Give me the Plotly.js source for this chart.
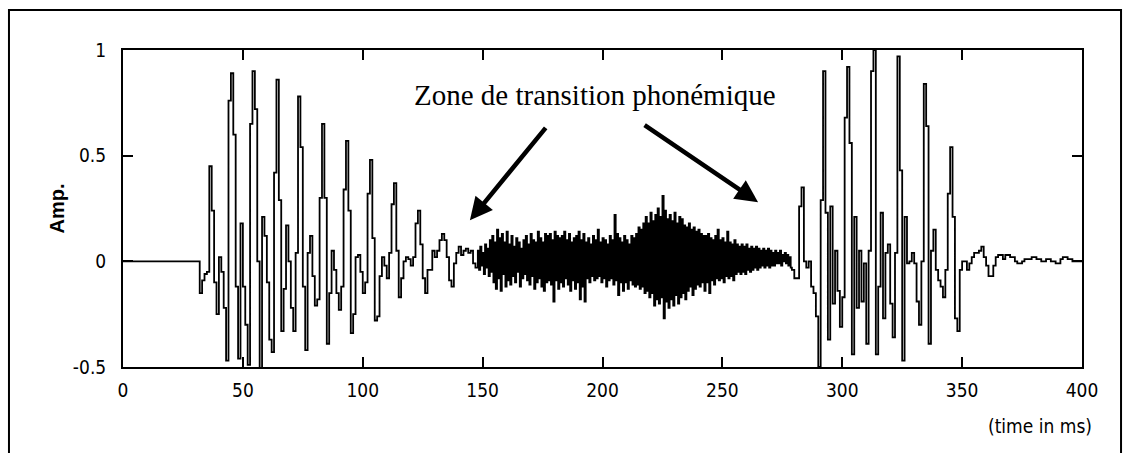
<!DOCTYPE html>
<html>
<head>
<meta charset="utf-8">
<script src="https://cdn.plot.ly/plotly-3.0.1.min.js"></script>
<style>
  html, body { margin: 0; padding: 0; background: #ffffff; }
  #chart { width: 1125px; height: 453px; }
</style>
</head>
<body>
<div id="chart"></div>
<script>
// ---- data (amplitude) ----
// silence before the first voiced segment: samples at t = 0 and t = 31 ms
const leadIn = [0, 0];
const leadInStart = 0, leadInStep = 31;

// first voiced segment, one sample per ms from t = 32 ms
const voiced1Start = 32, voiced1Step = 1;
const voiced1 = [
  -0.15,-0.09,-0.06,-0.05,0.45,0.24,-0.10,-0.25,0.02,-0.05,
  -0.22,-0.47,0.76,0.89,0.60,-0.12,-0.46,0.18,-0.12,-0.30,
  -0.49,0.65,0.90,0.72,0.00,-0.52,0.21,0.12,-0.10,-0.37,
  -0.43,0.42,0.86,0.29,-0.33,-0.13,0.17,0.00,-0.22,-0.33,
  0.04,0.78,0.54,-0.12,-0.42,0.04,0.12,-0.07,-0.21,-0.18,
  0.30,0.65,0.30,-0.39,-0.15,0.05,-0.04,-0.15,-0.23,-0.12,
  0.34,0.57,0.24,-0.34,-0.25,0.02,0.03,-0.05,-0.15,-0.10,
  0.32,0.48,0.11,-0.28,-0.26,-0.07,0.02,-0.02,-0.08,0.04,
  0.27,0.37,0.05,-0.17,-0.08,0.00,0.02,0.01,-0.02,0.02,
  0.18,0.24,0.08,-0.08,-0.15,-0.04,-0.04,0.05,0.02,0.05,
  0.10,0.13,0.10,0.02,-0.09,-0.12,-0.01,0.04,0.07,0.03,
  0.05,0.06,0.04,0.05,-0.01,-0.03
];

// transition zone (noise), one sample per 0.5 ms from t = 148 ms
const transitionStart = 148, transitionStep = 0.5;
const transition = [
  0.05,-0.04,0.07,-0.02,0.04,-0.06,0.08,-0.03,0.06,-0.07,
  0.10,-0.05,0.12,-0.10,0.09,-0.13,0.15,-0.08,0.11,-0.14,
  0.13,-0.06,0.09,-0.12,0.14,-0.09,0.08,-0.11,0.12,-0.07,
  0.07,-0.10,0.11,-0.05,0.09,-0.12,0.06,-0.08,0.10,-0.06,
  0.12,-0.09,0.08,-0.11,0.13,-0.07,0.10,-0.13,0.09,-0.10,
  0.14,-0.08,0.11,-0.12,0.09,-0.14,0.13,-0.10,0.12,-0.09,
  0.13,-0.11,0.10,-0.19,0.14,-0.09,0.12,-0.13,0.11,-0.10,
  0.12,-0.12,0.14,-0.08,0.10,-0.11,0.13,-0.14,0.09,-0.09,
  0.11,-0.13,0.12,-0.10,0.14,-0.18,0.10,-0.12,0.13,-0.19,
  0.09,-0.08,0.11,-0.10,0.08,-0.07,0.12,-0.09,0.10,-0.08,
  0.15,-0.07,0.09,-0.10,0.11,-0.08,0.10,-0.12,0.08,-0.09,
  0.12,-0.08,0.10,-0.11,0.22,-0.09,0.13,-0.16,0.11,-0.10,
  0.09,-0.14,0.12,-0.10,0.10,-0.13,0.08,-0.09,0.12,-0.11,
  0.11,-0.12,0.13,-0.11,0.16,-0.13,0.15,-0.12,0.18,-0.15,
  0.21,-0.14,0.18,-0.17,0.23,-0.15,0.19,-0.21,0.22,-0.18,
  0.25,-0.20,0.21,-0.17,0.31,-0.27,0.24,-0.19,0.20,-0.22,
  0.22,-0.18,0.19,-0.21,0.23,-0.16,0.18,-0.20,0.21,-0.17,
  0.20,-0.15,0.17,-0.18,0.16,-0.14,0.18,-0.12,0.15,-0.16,
  0.16,-0.13,0.14,-0.11,0.15,-0.12,0.13,-0.10,0.12,-0.14,
  0.12,-0.10,0.13,-0.15,0.11,-0.09,0.10,-0.11,0.12,-0.08,
  0.15,-0.09,0.10,-0.08,0.11,-0.10,0.09,-0.07,0.14,-0.08,
  0.09,-0.07,0.08,-0.09,0.10,-0.06,0.08,-0.05,0.07,-0.06,
  0.08,-0.05,0.07,-0.06,0.08,-0.04,0.06,-0.05,0.07,-0.04,
  0.06,-0.03,0.07,-0.04,0.06,-0.03,0.05,-0.02,0.06,-0.03,
  0.05,-0.02,0.06,-0.03,0.05,-0.02,0.04,-0.02,0.05,-0.01,
  0.04,-0.01,0.05,-0.02,0.03,0.00,0.04,-0.01,0.03,-0.02,
  0.02,-0.03
];

// second voiced segment and decay, one sample per ms from t = 279 ms
const voiced2Start = 279, voiced2Step = 1;
const voiced2 = [
  -0.04,-0.08,-0.08,0.26,0.35,0.00,-0.03,0.00,-0.12,-0.15,
  -0.26,-0.50,0.29,0.90,0.23,-0.37,0.26,-0.20,0.05,-0.14,
  -0.31,-0.17,0.68,0.92,0.56,-0.44,0.21,-0.22,0.05,-0.19,
  -0.01,-0.39,0.05,0.90,1.00,-0.44,-0.12,0.23,-0.27,0.04,
  0.08,-0.20,-0.36,0.04,0.97,0.43,-0.47,0.21,-0.01,0.00,
  0.04,-0.01,-0.19,-0.30,0.00,0.84,0.64,-0.39,0.05,0.15,
  -0.04,-0.09,-0.12,-0.17,-0.04,0.32,0.54,0.21,-0.27,-0.33,
  -0.04,0.00,0.00,-0.04,-0.01,0.02,0.04,0.04,0.05,0.07,
  0.02,-0.02,-0.07,-0.07,-0.02,0.02,0.03,0.03,0.01,0.03,
  0.03,0.02,0.02,0.00,-0.01,-0.01,0.00,0.01,0.01,0.01,
  0.02,0.02,0.01,0.01,0.00,0.00,0.01,0.01,0.00,0.00,
  -0.01,-0.01,0.01,0.02,0.02,0.01,0.01,0.00,0.00,0.00,
  0.00,0.00
];

const xTickVals = [0, 50, 100, 150, 200, 250, 300, 350, 400];
const xTickText = ['0', '50', '100', '150', '200', '250', '300', '350', '400'];
const yTickVals = [-0.5, 0, 0.5, 1];
const yTickText = ['-0.5', '0', '0.5', '1'];

const yTitle = 'Amp.';
const xUnitLabel = '(time in ms)';
const noteText = 'Zone de transition phonémique';
// arrow tips (ms, amplitude)
const arrowTipLeft = [144.7, 0.194];
const arrowTipRight = [264.9, 0.28];
const noteAnchor = [196.9, 0.787];

// ---- build the sampled signal ----
const segments = [
  { start: leadInStart, step: leadInStep, values: leadIn },
  { start: voiced1Start, step: voiced1Step, values: voiced1 },
  { start: transitionStart, step: transitionStep, values: transition },
  { start: voiced2Start, step: voiced2Step, values: voiced2 }
];
const t = [], amp = [];
segments.forEach(s => s.values.forEach((v, i) => { t.push(s.start + i * s.step); amp.push(v); }));

const tickFamily = '"DejaVu Sans Condensed", "Liberation Sans Narrow", "Arial Narrow", sans-serif';
const tickFont = { family: tickFamily, size: 19, color: '#000' };

const trace = {
  type: 'scatter', mode: 'lines', x: t, y: amp,
  line: { color: '#000', width: 1.8, shape: 'hv' },
  hoverinfo: 'skip'
};

const axisCommon = {
  showgrid: false, zeroline: false,
  showline: true, linecolor: '#000', linewidth: 2, mirror: 'ticks',
  ticks: 'inside', ticklen: 10, tickwidth: 2, tickcolor: '#000',
  tickfont: tickFont, fixedrange: true
};

const layout = {
  width: 1125, height: 453,
  margin: { l: 123, r: 43, t: 50, b: 86, pad: 0 },
  paper_bgcolor: '#fff', plot_bgcolor: '#fff',
  showlegend: false,
  xaxis: Object.assign({}, axisCommon, {
    range: [0, 400], tickmode: 'array', tickvals: xTickVals, ticktext: xTickText,
    ticklabelstandoff: 5
  }),
  yaxis: Object.assign({}, axisCommon, {
    range: [-0.5, 1], tickmode: 'array', tickvals: yTickVals, ticktext: yTickText,
    ticklabelstandoff: 11,
    title: { text: '<b>' + yTitle + '</b>', standoff: 3,
             font: { family: '"Liberation Sans", Arial, sans-serif', size: 20, color: '#000' } }
  }),
  annotations: [
    { x: noteAnchor[0], y: noteAnchor[1], xref: 'x', yref: 'y', text: noteText, showarrow: false,
      font: { family: '"Liberation Serif", "Times New Roman", serif', size: 29, color: '#000' } },
    { x: arrowTipLeft[0], y: arrowTipLeft[1], xref: 'x', yref: 'y', text: '', showarrow: true,
      ax: 77, ay: -94, arrowhead: 2, arrowsize: 1, arrowwidth: 4.5, arrowcolor: '#000', standoff: 0 },
    { x: arrowTipRight[0], y: arrowTipRight[1], xref: 'x', yref: 'y', text: '', showarrow: true,
      ax: -115, ay: -78, arrowhead: 2, arrowsize: 1, arrowwidth: 4.5, arrowcolor: '#000', standoff: 0 },
    { x: 1.0, y: -0.145, xref: 'paper', yref: 'paper', xanchor: 'right', yanchor: 'top',
      text: xUnitLabel, showarrow: false, xshift: 12,
      font: { family: tickFamily, size: 19, color: '#000' } }
  ],
  shapes: [
    { type: 'rect', xref: 'paper', yref: 'paper', x0: -0.1189, x1: 1.0407, y0: -0.29, y1: 1.1262,
      line: { color: '#000', width: 2 }, fillcolor: 'rgba(0,0,0,0)' }
  ]
};

Plotly.newPlot('chart', [trace], layout, { displayModeBar: false, staticPlot: true });
</script>
</body>
</html>
